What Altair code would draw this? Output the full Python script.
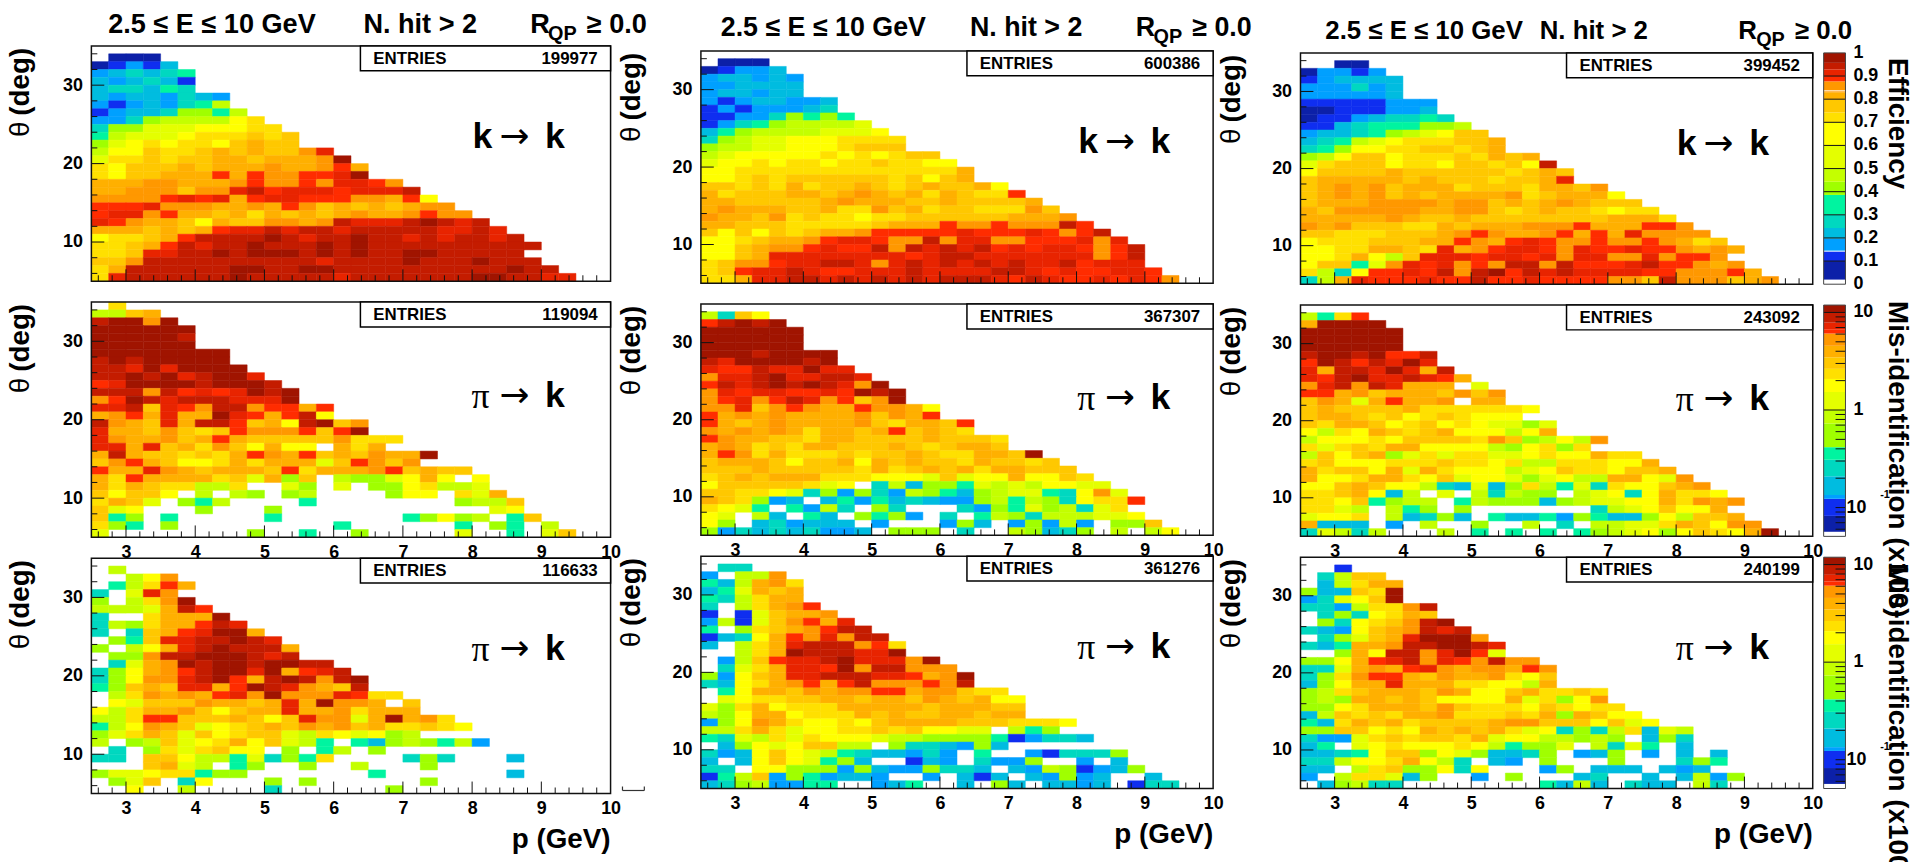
import altair as alt
import pandas as pd

LETTERS = "abcdefghijklmnopqr"
COLORS = ["#0c20a8","#0f2ef0","#00a0ff","#00bce0","#00d8c0","#00f4a0","#a0ff00","#c4ff00","#e4ff00",
          "#ffff00","#ffe000","#ffc800","#ffb000","#ff9800","#ff2c00","#e82400","#c41c00","#a01400"]
EFF_VALUES = [.06,.12,.17,.22,.27,.34,.41,.47,.55,.65,.72,.77,.815,.85,.89,.915,.94,.98]
MIS_VALUES = [.068,.1,.128,.168,.254,.36,.55,.85,1.24,1.78,2.35,3.0,4.0,5.3,6.4,7.3,8.8,10.9]
EFF_EDGES = [.02,.1,.143,.197,.243,.30,.386,.443,.5,.6,.7,.743,.8,.83,.877,.9,.929,.957,1.0]
MIS_EDGES = [.0565,.0822,.123,.1346,.2094,.309,.416,.729,1.0,1.53,2.08,2.64,3.47,4.55,6.08,6.73,7.85,9.93,11.9]
EFF_TICKS = [.1,.2,.3,.4,.5,.6,.7,.8,.9]
EFF_WHITE = [.143,.836]
EFF_LABELS = [0,.1,.2,.3,.4,.5,.6,.7,.8,.9,1]
MIS_TICKS = [.06,.07,.08,.09,.1,.2,.3,.4,.5,.6,.7,.8,.9,2,3,4,5,6,7,8,9]
MIS_LONG = [1,10]
X_MAJOR = [3,4,5,6,7,8,9]
X_MINOR = [2.6,2.8,3.2,3.4,3.6,3.8,4.2,4.4,4.6,4.8,5.2,5.4,5.6,5.8,6.2,6.4,6.6,6.8,7.2,7.4,7.6,7.8,8.2,8.4,8.6,8.8,9.2,9.4,9.6,9.8]
Y_MAJOR = [10,20,30]
Y_MINOR = [6,8,12,14,16,18,22,24,26,28,32,34]
ENTRIES = [199977,600386,399452,119094,367307,243092,116633,361276,240199]

P1 = ["",".aaa","abcbd","cdedef","dcdedb","deedfe","dcddcedc","cbcdcefh","bcddeggfh","cceghhhhjk","eggiiijjjkk","fhiiijkkklkl",
"gijkjkkjlmll","hjjlkklmlmllnp","ikklkllmmlmmmnr","kjlllmlmmmnmmnom","kjllmmmomonnoopr","mmmnnmmmnonnonppon","mmnnnlnnpqopppopppq",
"nnnnopopmoppooonnmoj","ooopnnnmmnmonlmlmlmnn","oppnommlmkmlmlmnmmnonn","ponmmljmllnnmnqpppqrqpq","mmmlmlmoppqpqqpqqqqqppqp",
"jkklmoqqqqrqpqqrqqpqpqqpq","kklmoqpqqrqqqrqrqqqqqqqqqq","kklppqqrqrrrqrqrqqrrqqqqq","llnqqqqqqqqqqpqqqqrqqqrqqq","kmqqqqqqrrqqrrqqqqqqqqqqrqq","kpqqqqqqrqqqqqpqqqqqqqrrqqpp"]
P2 = [".k","hhlm","qrrnr","rrrrrr","rrrrrq","rrrrrr","rrrrrrrr","qrqrrrrr","qqprprrrr","qqrqrpqrrp","oprrrrqrrrq","qqqnqopoprqr",
"norqpqqqpppr","ppqlponqqnoomo","mnompmmrpomoqj","qnmlpmqqolmjqrln","pmmlnlklonnnolor","pnmmnlmomlllllnkkk","ppmplmknljmjj.mkm",
"mqmllklkmonmolmlnmmr","lnomljjkmkmmmilonln","ommpnmlmmmlokmmmnolmll","mkommmmklimgl.hggijmj.j","mkmlkkhhk..ig.i.ggjkhhi",
"ljllj.h.hg.gh....gjj.kim","kmli.gfh....f........ghhl","lij...g...g............ij","lfg.f.....f.......fgjgh.fl","kgf.g.........f......f.gf.h",
"i........g..f..g.....i..f.il"]
P3 = ["",".h","..hjn",".fhkom","e.ipn","g.hknr","hhhimqo","e..kmmmr","ehgkmmoqp","e.elmoprrm",".gflppqqrqp","g.hjmpqrqqqm",".ggnqqrrrqpq",
".eimnrqrrqrrqq","egjmnoqrrprmopq","egjnnpqromqrqnqr","fglmlppmorqpnmlq",".hknmnmopnrnnnpokk",".jilllnmmlmpmrnnm.l","jhkmmnljlmmpmmnkmmm",
"hhkoolllmljlpnnimrmnk","fhjnmlijklmlnmnlmkklkj","gikmliljkllihkjijgh","h.ghlijkmjlihf.fdghgfhc",".e.gkikljj.g.fh.g","ee.lljhhfiegfk....ege...d",
"...lmih.fg..g..h...g","giijkkfgg.......f.......d",".gil.ej...g.g......g","..j..h....e......g"]
P4 = ["",".aaa","abccd","cddcdc","ccdddd","cddcdd","cbcddccd","bcbcccde","bbccegfgf","bcefghhhhi","dfghhhhiiij","eghiijjjkkkk","ghhiijjjklll",
"hijjjjjkjkjkll","ijjkjkkjkklkkjj","jjkkkkkkkkkkkkkm","jjklkllllllkljlm","llklkmkllmlklmllmj","mklllmmlmnmlmkmlkko","mmlllllmnmmmllmllllm",
"mnmmmllmkknlmkllkkknl","nmmlnklkkjkkllllllmmmn","mmlllkkkkklmmmonnonnnqo","ljljlklmmn"+"ooooo"+"pooop"+"onoq","jjklmmnoppo"+"nnqnppnnooopnp",
"jjlmnn"+"opoo"+"qnqpqpq"+"opopp"+"onoq","jjlmppppppppopqqpppppppnoq","klnnoppqqpnpqpqpqpqppqoppp","kloppqpoop"+"ppqpppp"+"qqpop"+"ooppo",
"kkm"+"ppqqpqpqpq"+"pqqqpoqpo"+"opopo"+"n"]
P5 = ["","helj","oqrqr","rrrrrr","rrrrrr","rrrrrr","rrrqrrrr","qprrrrqr","pooqpprpp","nppqrppqqp","oqpqrqrqpnr","npoppooporqr","nopnoqpnolnr",
"nnplnonmmonnmj","omnmnmmmmnlnmo","omlmnmmmmnlkmmlo","nmnmnmkmmlmolmlk","onmmllkmmllllmlllk","mnmklkmmlllmlklmml","monkmkkklkllmlkkmmlr",
"lmmmljllmjmlmllkmllkl","lllmlllllkmklmlmkmmlll","klmlmmmkkkjjjil"+"ijjmj"+"jlk","jlllllkij.ehdggfihihjjii","llkkjiegcgechgfdghiifejni",
"mlkgcd.dfcfdedccghfhgejkko","kjif.fche.ge...ecgfigheik","ji.hd.fd.gfgc.e.fhgehhhiij","jg.decddd.c...cgd.cgchc.ggl","gcededeccd.ggg.e..hgdeg.h.hj"]
P6 = ["",".ee","c.hhn","fdhmnk","dfimlm","fehkmm","e.hkmno","b.bilmmn","chbilnomp","f.gklmnoqq","bdejmonpnqq","d.hkmpqqqnok","..hkmrqqqppr",
".chloppqrpppnr",".eikmppornqqnnn","gcjlmppqqqppomnr","edjkmnomoqnnnonq",".fjmmlnmnnoomnnlkk",".ijkkllmmlmmlnmlmjj","igkmjkkkmmmmmlmmmll",
"hgjmmjkkkmlmllmmlmm","cgjnmkjjkjlmmmmlllkkkj","hhkmkijjkklkljjii.hfg","feihkikjjj"+"ihhgg"+"ggfbc"+"eed",".dgjijllhh.geedcgd",
"ecdjljihfeddcec.f..cbeeeg","d.djljifgd..bdc.eccg..c.d","ee.jjgggcgdccgeed.dchgbcdg","bfhlcgfcddc..c.dbd.dcgcd..d","deghccff..cdf..d.gd.ddcd.bee"]
P7 = ["","..aa","accbc","bcdddd","cccecd","cccccd","bbbbbccc","aabbbccd","abbcdeefe","bbdefffggh","cddefghijll","defhijkkkllm","efgjjkkllklm",
"ghjlljkkklkmlm","iklllјkkjllkljq".replace("ј","j"),"jllllmllllllklml","lmmmmmlmlllkllmp","lmnmnlmmmklllkmmln","lmnmnlmlmmmmnklmmmj","lmmmnnnnmnnlmlmnmlll",
"mlnnnnnmmnnlklmllkjkk","mmmmmnmllmllllllllmmmk","nmnlllkkml"+"mmmnn"+"nommm"+"oon","llkkklllmnonmmnomompnnnn","jkkklllmmonmoponnonnonmkl",
"jjkkmmlkpmnopponpoopoonmnm","jjkmjhlpppoppopnppnnpnoon","jllfinpopnonqqnqooopqoonmn","khejoopoqnqroqpqppppoonnnom",
"ehm"+"pooopooqoopoooo"+"nnl"+"q"+"nnn"+"l"+"mn"]
P8 = ["","hfko","mrrrr","rrrrrr","rrrrrr","rrrrrr","qrrqrooq","orqoqprp","pmqqprpmq","poqrppqpom","npqnqpmmm.i","oomnlmmmlnln","lnmimommn.mm",
"lmllllmkkkkkkj","lmmlkljklkjjj","lkmmljkljkjiigi","jhkjmlklmjjjhjm","hjjjkjllllknlghjhn","kiklkmmjjjjhgjkgk","hljlmgikikkiijkjjmkk",
"kljjjkkklkkjkhhkkkjjm","mkllјmimkjjjhijlkkjllm".replace("ј","j"),"mjjkmmkjlijjigijhhmmjin","jjlmljjhedidgkhfiekjjlmn","kklmjdh.i.hehgg.hijejmkkj",
"kkjlfghh.fhgggdghiijjmknmn","kkih.hfg.g.......ehijljjm","ijjk.hdegd.fddfcgfddgjhllm","mddd.c.h..g..h.e.hhiikmljnn","eiheh...h.f.f.f.fghijgjlkjmr"]
P9 = ["","..b",".ehll",".dhkmm","gddlkr","ceijlr","eechkknq",".egejkml",".gejklnqr","edcjlmnqpq",".egilmprrrn","edfmmnqqrrqp","..gmjqqnproi",
"ggjmopqnponqnn","eeimnmopnmnnmon","egknoomlnmmnkjl","dgjmmpmmmkkjjhm","ghklmmmlnmjjlmkklk","ghgmmlmljjjjmikgjn","ggjkmmmlnlkkkjlkjkk",
"dhlklkmmnkkklkmgmljj","fdkmlmkllllmnnllljlij","gglljkjmlmlmkijeg"+"ehkdih","ecciklkllk"+"mijjh"+"hghg."+"dge","df.ijkjjjkjhfggi.heif.d",
"ddefjllgjigddeg.cdg.c.d.d","eehjjkmjhe.dc.g...g...egf","dd.hklggjej...cg.ddd.dcd","c.hkkidg..c.g...de..d.dhcg",".dghee"+"........"+"fdhd"+"."+"edd"+"."+"he"]

FONT = "Liberation Sans"
ONE = pd.DataFrame({"a": [0]})
CELL_H = 237

def cells(rows, values):
    rec = []
    for r, row in enumerate(rows):
        for c, ch in enumerate(row):
            if ch in LETTERS:
                rec.append({"p": 2.5 + .25 * c, "p2": 2.75 + .25 * c, "t": 35 - 1 - r, "t2": 35 - r,
                            "v": values[LETTERS.index(ch)]})
    return pd.DataFrame(rec)

def label(text, x, y, size, bold=True, angle=0, align="left", font=FONT, color="black"):
    kw = dict(text=text, font=font, fontSize=size, fontWeight="bold" if bold else "normal", align=align,
              baseline="middle", color=color)
    if angle:
        kw["angle"] = angle
    return alt.Chart(ONE).mark_text(**kw).encode(x=alt.value(x), y=alt.value(y))

def panel(rows, log, w, h, dy, cell_w, entries, col, row):
    values = MIS_VALUES if log else EFF_VALUES
    edges = MIS_EDGES if log else EFF_EDGES
    cs = alt.Scale(type="threshold", domain=edges, range=["#ffffff"] + COLORS + ["#a01400"])
    XS = alt.Scale(domain=[2.5, 10], range=[0, w], nice=False, zero=False)
    YS = alt.Scale(domain=[5, 35], range=[dy + h, dy], nice=False, zero=False)
    xax = alt.Axis(values=[3,4,5,6,7,8,9,10], tickSize=0, domain=False, grid=False, title=None, format="d",
                   labels=row > 0, labelFont=FONT, labelFontSize=18, labelFontWeight="bold", labelColor="black",
                   labelPadding=6, labelOverlap=False, labelFlush=False, offset=dy + h - CELL_H)
    yax = alt.Axis(values=Y_MAJOR, tickSize=0, domain=False, grid=False, title=None, format="d",
                   labelFont=FONT, labelFontSize=18, labelFontWeight="bold", labelColor="black", labelPadding=9)
    heat = alt.Chart(cells(rows, values)).mark_rect(strokeWidth=0.5).encode(
        x=alt.X("p:Q", scale=XS, axis=xax), x2="p2:Q",
        y=alt.Y("t:Q", scale=YS, axis=yax), y2="t2:Q",
        fill=alt.Fill("v:Q", scale=cs, legend=None),
        stroke=alt.Stroke("v:Q", scale=cs, legend=None))
    layers = [heat]
    for vals, ln in ((X_MINOR, 6), (X_MAJOR, 12)):
        layers.append(alt.Chart(pd.DataFrame({"p": vals})).mark_rule(color="#111", strokeWidth=1).encode(
            x=alt.X("p:Q", scale=XS, axis=None), y=alt.value(dy + h), y2=alt.value(dy + h - ln)))
    for vals, ln in ((Y_MINOR, 6), (Y_MAJOR, 13)):
        layers.append(alt.Chart(pd.DataFrame({"t": vals})).mark_rule(color="#111", strokeWidth=1).encode(
            y=alt.Y("t:Q", scale=YS, axis=None), x=alt.value(0), x2=alt.value(ln)))
    layers.append(alt.Chart(ONE).mark_rect(filled=False, stroke="#111", strokeWidth=1.5).encode(
        x=alt.value(0), x2=alt.value(w), y=alt.value(dy), y2=alt.value(dy + h)))
    bx = [271, 268, 268][col]
    layers.append(alt.Chart(ONE).mark_rect(fill="white", stroke="black", strokeWidth=1.5).encode(
        x=alt.value(bx), x2=alt.value(w), y=alt.value(dy), y2=alt.value(dy + 25)))
    layers.append(label("ENTRIES", bx + 13, dy + 13, 17))
    layers.append(label(str(entries), w - 13, dy + 13, 17, align="right"))
    lx = [384, 380, 379][col]
    ly = dy + 92 + (3 if row == 1 else 0)
    if log:
        layers.append(label("π", lx - 1, ly + 1, 36, bold=False, font="Liberation Serif"))
    else:
        layers.append(label("k", lx, ly, 36))
    layers.append(label("→", lx + 27, ly, 36, bold=False, font="DejaVu Sans"))
    layers.append(label("k", lx + 73, ly, 36))
    tx = [-71, -69, -69][col]
    layers.append(label("(deg)", tx, dy + 36, 28, angle=270, align="center"))
    layers.append(label("θ", tx, dy + 84, 28, bold=False, angle=270, align="center"))
    if row == 0:
        t = [(17, 274, 442, -21), (20, 271, 438, -23), (25, 241, 441, -22)][col]
        fs = [27.3, 27, 26][col]
        layers.append(label("2.5 ≤ E ≤ 10 GeV", t[0], dy + t[3], fs))
        layers.append(label("N. hit > 2", t[1], dy + t[3], fs))
        layers.append(label("R", t[2], dy + t[3], fs))
        layers.append(label("QP", t[2] + 18, dy + t[3] + 9, 20))
        layers.append(label("≥ 0.0", t[2] + 57, dy + t[3], fs))
    if row == 2:
        py = [284, 281, 280][col]
        layers.append(label("p (GeV)", w, dy + py, 28, align="right"))
    if row == 2 and col == 0:
        for seg in ((535, 557, 234, 234), (535, 535, 230, 234), (557, 557, 230, 234)):
            layers.append(alt.Chart(ONE).mark_rule(color="#333", strokeWidth=1.2).encode(
                x=alt.value(seg[0]), x2=alt.value(seg[1]), y=alt.value(seg[2]), y2=alt.value(seg[3])))
    if col == 2:
        layers += colorbar(log, h, dy, row)
    c = alt.layer(*layers).resolve_scale(x="independent", y="independent", fill="independent", stroke="independent")
    return c.properties(width=cell_w, height=CELL_H, view=alt.ViewBackground(stroke=None))

def colorbar(log, h, dy, row):
    edges = MIS_EDGES if log else EFF_EDGES
    rng = [dy + h, dy]
    ys = alt.Scale(type="log", domain=[.0507, 11.9], range=rng, nice=False) if log else alt.Scale(domain=[0, 1], range=rng, nice=False, zero=False)
    bx0, bx1, lx = 527, 549, 557
    df = pd.DataFrame({"lo": edges[:-1], "hi": edges[1:], "col": COLORS})
    out = [alt.Chart(df).mark_rect().encode(
        x=alt.value(bx0), x2=alt.value(bx1),
        y=alt.Y("lo:Q", scale=ys, axis=None), y2="hi:Q",
        fill=alt.Fill("col:N", scale=None, legend=None))]
    def rule(vals, x0, color="#111", sw=1):
        return alt.Chart(pd.DataFrame({"l": vals})).mark_rule(color=color, strokeWidth=sw).encode(
            y=alt.Y("l:Q", scale=ys, axis=None), x=alt.value(x0), x2=alt.value(bx1))
    def txt(vals, labels, x):
        return alt.Chart(pd.DataFrame({"l": vals, "s": labels})).mark_text(
            font=FONT, fontSize=18, fontWeight="bold", align="left", baseline="middle", color="black").encode(
            y=alt.Y("l:Q", scale=ys, axis=None), x=alt.value(x), text="s:N")
    if log:
        out.append(rule(MIS_TICKS, bx1 - 10))
        out.append(rule(MIS_LONG, bx0))
        out.append(txt([10, 1], ["10", "1"], lx))
        out.append(txt([.1], ["10"], lx - 7))
        out.append(label("-1", 584, dy + 191, 11))
        start = -4 if row == 1 else 6
        out.append(label("Mis-identification  (x100)", 601, dy + start, 28, angle=90))
    else:
        out.append(rule(EFF_TICKS, bx0))
        out.append(rule(EFF_WHITE, bx0, color="white"))
        out.append(txt(EFF_LABELS, [str(v) for v in EFF_LABELS], lx))
        out.append(label("Efficiency", 601, dy + 5, 28, angle=90))
    out.append(alt.Chart(ONE).mark_rect(filled=False, stroke="#444", strokeWidth=1).encode(
        x=alt.value(bx0), x2=alt.value(bx1), y=alt.value(dy), y2=alt.value(dy + h)))
    return out

CELL_W = [524, 514, 516]
WIDTHS = [523, 516, 516]
HEIGHTS = [[237, 237, 237], [234, 233, 234], [233, 233, 233]]
DY = [[0, 0, 0], [5, 2, -2], [7, 3, -1]]
DATA = [P1, P4, P7, P2, P5, P8, P3, P6, P9]

charts = []
for r in range(3):
    for c in range(3):
        charts.append(panel(DATA[r * 3 + c], r > 0, WIDTHS[c], HEIGHTS[c][r], DY[c][r], CELL_W[c],
                            ENTRIES[r * 3 + c], c, r))

chart = alt.concat(*charts, columns=3, spacing=alt.RowColnumber(row=21, column=90), bounds="flush", align="none",
                   ).properties(padding={"left": -1, "top": 0, "right": 0, "bottom": 0}, background="white")
chart.save("out.html", embed_options={"renderer": "svg", "actions": False})
